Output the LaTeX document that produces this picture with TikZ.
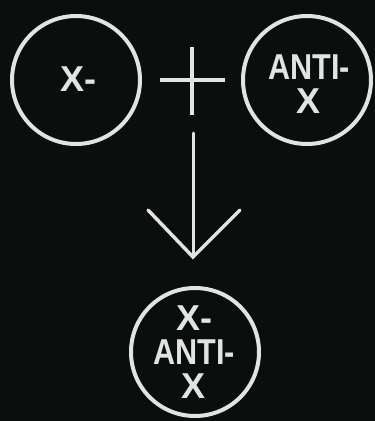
\documentclass[tikz,border=0pt]{standalone}
\usepackage{fontspec}
\usepackage{graphicx}
\setmainfont{Liberation Sans}
\definecolor{bg}{HTML}{0B0E0D}
\definecolor{silv}{HTML}{E2E4E2}
\begin{document}
\begin{tikzpicture}[x=1pt,y=-1pt,
  ring/.style={circle, draw=silv, line width=4pt, minimum size=128pt, inner sep=0pt},
  lbl/.style={text=silv, font=\bfseries\fontsize{36}{34}\selectfont, align=center, inner sep=0pt},
  stroke/.style={draw=silv, line width=4pt},
  thin/.style={draw=silv, line width=3pt, line cap=round, line join=miter}
]
\fill[bg] (0,0) rectangle (375,421);
\useasboundingbox (0,0) rectangle (375,421);
% circles
\node[ring] (L) at (76,80) {};
\node[ring] (R) at (307,80) {};
\node[ring] (B) at (195,352) {};
% labels
\node[lbl] (Lt) at (78,79) {X-};
\node[lbl] (Rt) at (309,84) {\scalebox{0.85}[1]{ANTI-}\\X};
\node[lbl] (Bt) at (194,352) {X-\\\scalebox{0.85}[1]{ANTI-}\\X};
% plus
\coordinate (pl) at (160,80);
\coordinate (pr) at (225,80);
\coordinate (pt) at (192,47);
\coordinate (pb) at (192,115);
\draw[stroke] (pl) -- (pr);
\draw[stroke] (pt) -- (pb);
% arrow
\coordinate (as) at (193,133);
\coordinate (ae) at (193,257);
\coordinate (wl) at (148,210);
\coordinate (wr) at (240,210);
\draw[thin] (as) -- (ae);
\draw[thin, line width=3.5pt] (wl) -- (ae) -- (wr);
\end{tikzpicture}
\end{document}
